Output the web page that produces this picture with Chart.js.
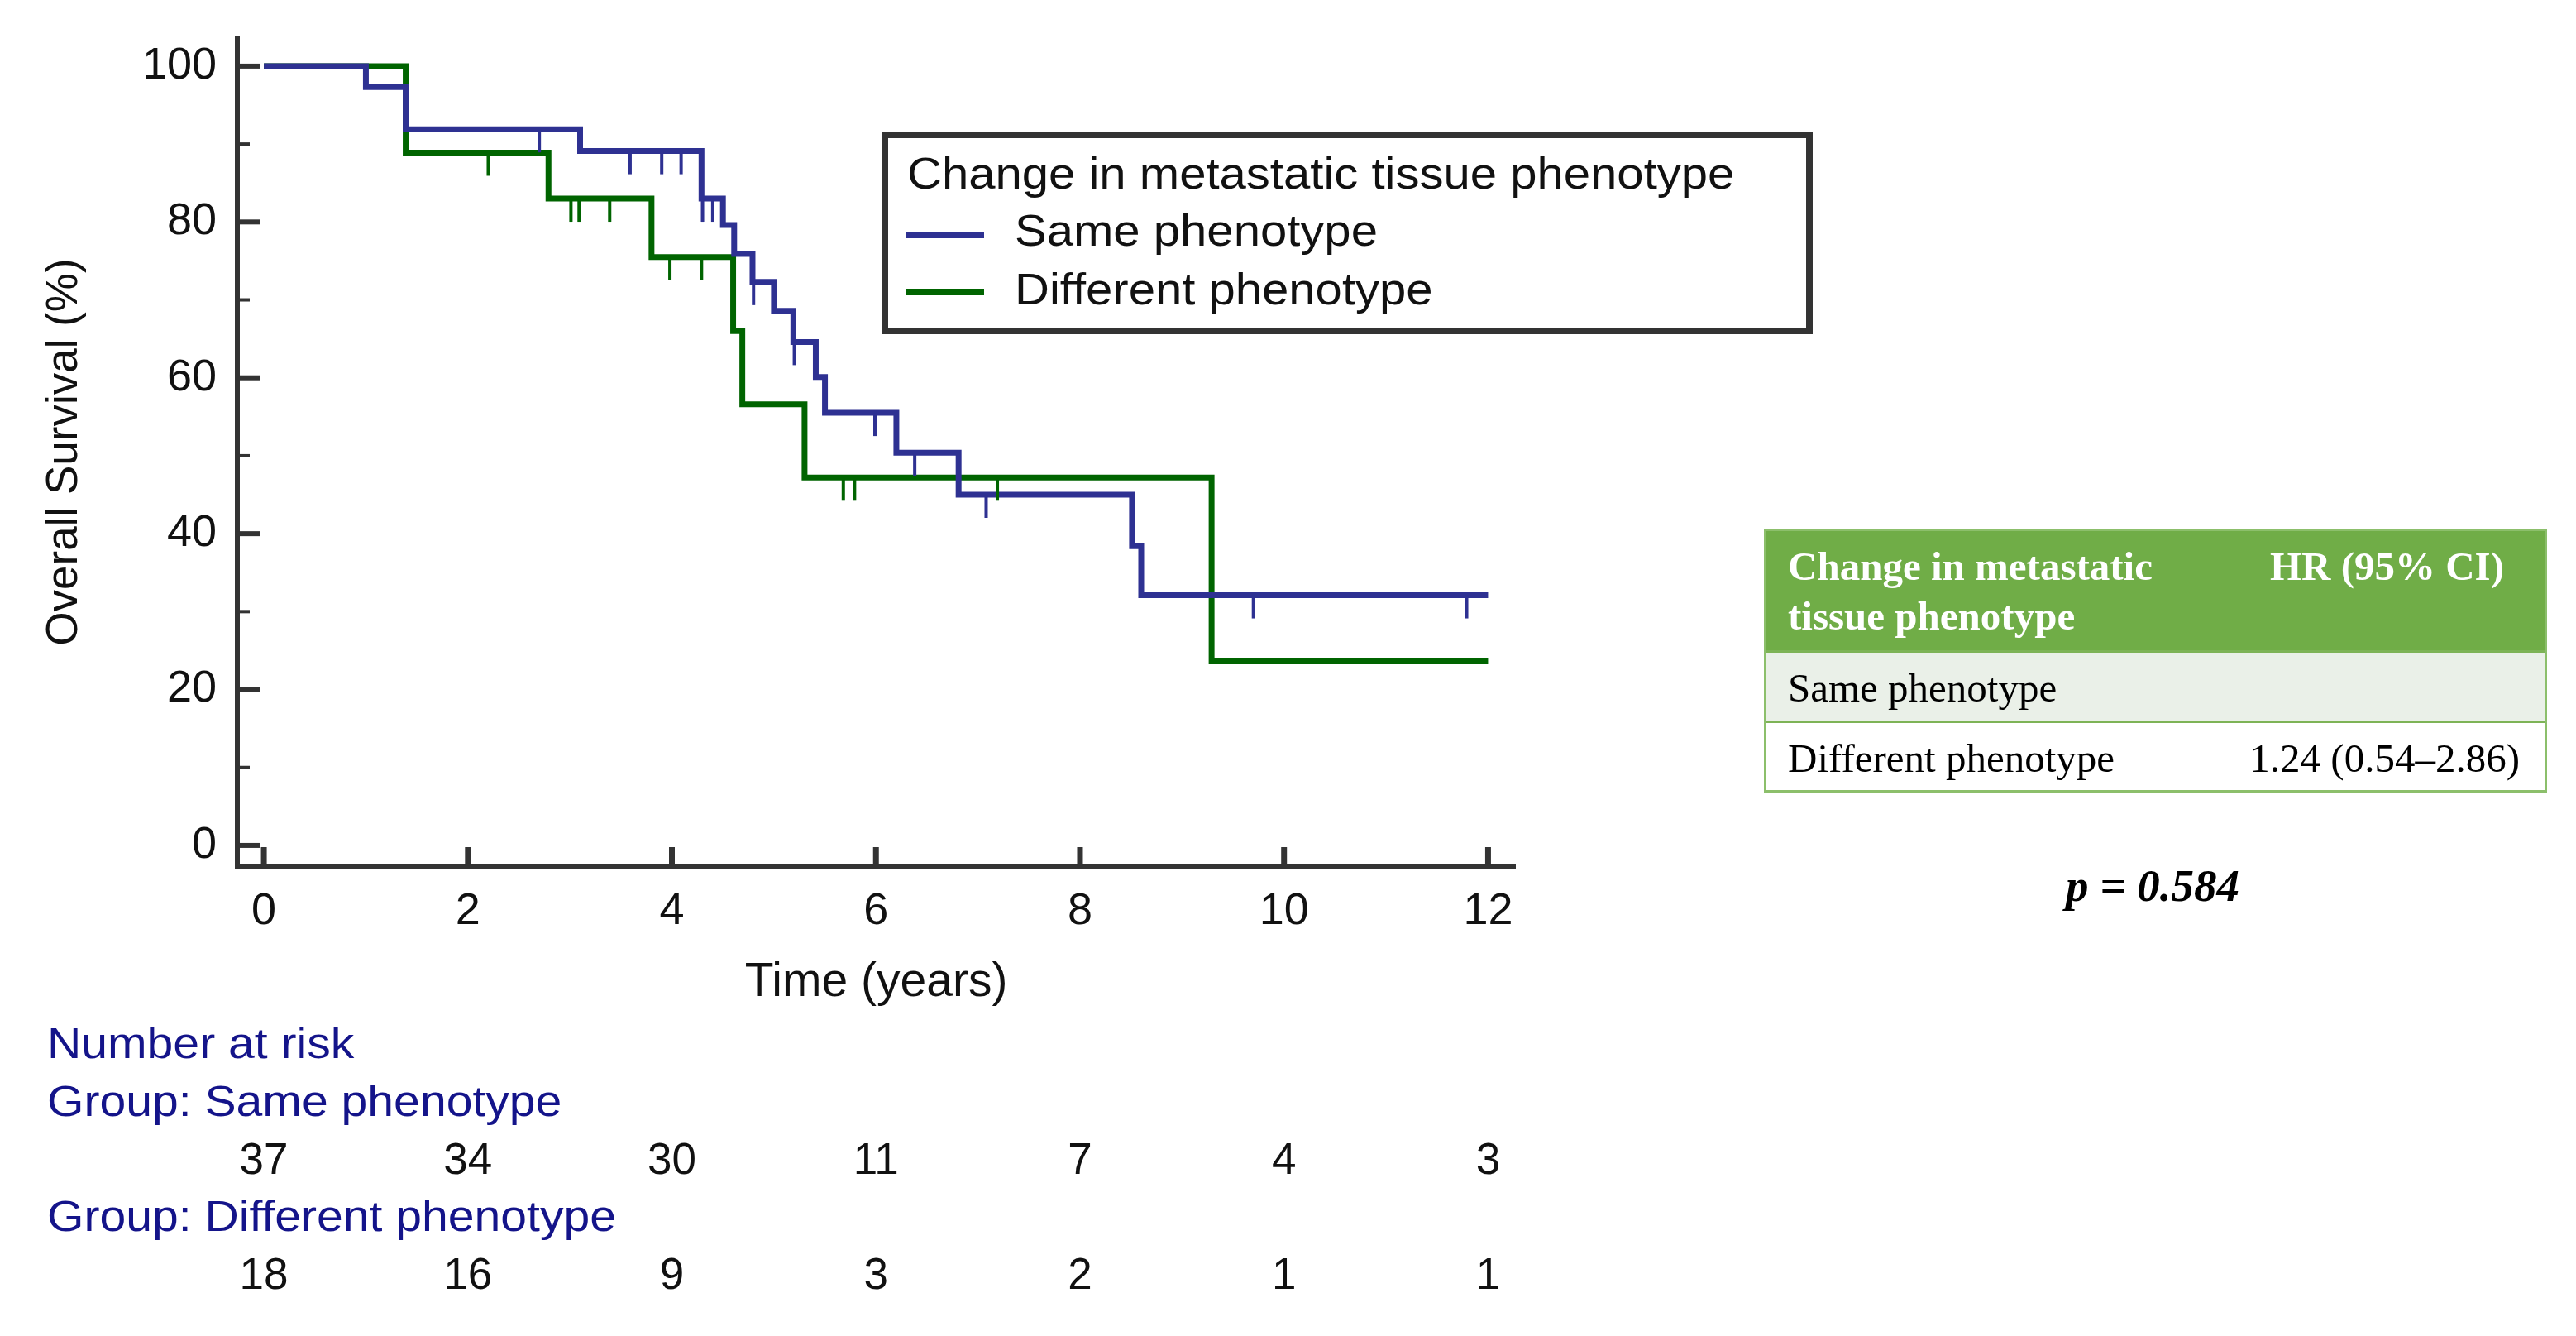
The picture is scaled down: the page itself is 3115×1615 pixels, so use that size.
<!DOCTYPE html>
<html>
<head>
<meta charset="utf-8">
<title>Overall survival by change in metastatic tissue phenotype</title>
<script src="https://cdn.jsdelivr.net/npm/chart.js@4.4.1/dist/chart.umd.min.js"></script>
<style>
  html, body { margin: 0; padding: 0; background: #fff; }
  #wrap { position: relative; width: 3115px; height: 1615px; overflow: hidden; }
  #km { position: absolute; left: 0; top: 0; }

  /* legend box over the plot */
  .legend { position: absolute; left: 1066px; top: 159px; width: 1126px; height: 245px;
            border: 8px solid #333; box-sizing: border-box;
            font-family: 'Liberation Sans', Arial, sans-serif; font-size: 54px; color: #111; }
  .legend .txt { position: absolute; line-height: 70px; white-space: nowrap;
                 transform: scaleX(1.075); transform-origin: left center; }
  .legend .swatch { position: absolute; width: 94px; height: 8px; }

  /* hazard ratio table */
  .tbl { position: absolute; left: 2133px; top: 639px; width: 947px; height: 319px;
         border: 3px solid #8cbf6b; box-sizing: border-box; background: #fff; }
  .tbl .head { position: absolute; left: 0; top: 0; right: 0; height: 144px; background: #70ad47; }
  .tbl .row1 { position: absolute; left: 0; top: 144px; right: 0; height: 82px; background: #eaf0e8;
               border-top: 3px solid #7db356; border-bottom: 3px solid #7db356; }
  .cell { position: absolute; font-family: 'Liberation Serif', 'Times New Roman', serif;
          font-size: 49px; line-height: 60px; white-space: nowrap; color: #000; }
  .cell.h { color: #fff; font-weight: bold; }
  .pval { position: absolute; left: 2403px; width: 400px; top: 1036px; text-align: center;
          font-family: 'Liberation Serif', 'Times New Roman', serif; font-size: 55px;
          font-weight: bold; font-style: italic; line-height: 70px; color: #000; }
</style>
</head>
<body>
<div id="wrap">
  <canvas id="km" width="3115" height="1615"></canvas>
  <div class="legend" id="legend"></div>
  <div class="tbl">
    <div class="head"></div>
    <div class="row1"></div>
  </div>
  <div class="cell h" style="left:2162px; top:655px;">Change in metastatic<br>tissue phenotype</div>
  <div class="cell h" style="right:87px; top:655px;">HR (95% CI)</div>
  <div class="cell" style="left:2162px; top:802px;">Same phenotype</div>
  <div class="cell" style="left:2162px; top:887px;">Different phenotype</div>
  <div class="cell" style="right:68px; top:887px;">1.24 (0.54–2.86)</div>
  <div class="pval"><i>p</i> = 0.584</div>
</div>
<script>
// ---- data ----
var sameTimes  = [0, 1.00, 1.39, 3.10, 4.29, 4.50, 4.61, 4.79, 5.00, 5.19, 5.41, 5.50, 6.20, 6.81, 8.51, 8.60, 12.0];
var sameSurv   = [100, 97.3, 91.9, 89.1, 83.0, 79.6, 75.9, 72.3, 68.6, 64.6, 60.1, 55.5, 50.4, 45.0, 38.4, 32.1, 32.1];
var sameCensor = [2.70, 3.59, 3.90, 4.09, 4.30, 4.40, 4.80, 5.20, 5.99, 6.38, 7.08, 9.70, 11.79];

var diffTimes  = [0, 1.39, 2.79, 3.80, 4.60, 4.69, 5.30, 9.29, 12.0];
var diffSurv   = [100, 88.9, 83.0, 75.5, 66.0, 56.6, 47.2, 23.6, 23.6];
var diffCensor = [2.20, 3.01, 3.09, 3.39, 3.98, 4.29, 5.68, 5.79, 7.19];

var seriesNames  = ['Same phenotype', 'Different phenotype'];
var seriesColors = ['#2e3192', '#006400'];
var legendTitle  = 'Change in metastatic tissue phenotype';

var xTicks  = [0, 2, 4, 6, 8, 10, 12];
var yTicks  = [0, 20, 40, 60, 80, 100];
var yMinor  = [10, 30, 50, 70, 90];

var riskTimes  = [0, 2, 4, 6, 8, 10, 12];
var sameRisk   = [37, 34, 30, 11, 7, 4, 3];
var diffRisk   = [18, 16, 9, 3, 2, 1, 1];
var riskTitle  = 'Number at risk';
var riskGroups = ['Group: Same phenotype', 'Group: Different phenotype'];

// ---- helpers ----
function toPoints(ts, ss) {
    return ts.map(function (t, i) { return { x: t, y: ss[i] }; });
}

// survival level in force at time t (last step at or before t)
function levelAt(ts, ss, t) {
    var v = ss[0];
    for (var i = 0; i < ts.length; i++) {
        if (ts[i] <= t) v = ss[i];
    }
    return v;
}

var groups = [
    { times: sameTimes, surv: sameSurv, censor: sameCensor, risk: sameRisk, color: seriesColors[0] },
    { times: diffTimes, surv: diffSurv, censor: diffCensor, risk: diffRisk, color: seriesColors[1] }
];

// ---- legend (html) ----
(function () {
    var box = document.getElementById('legend');
    var html = '<div class="txt" style="left:23px; top:7px;">' + legendTitle + '</div>';
    seriesNames.forEach(function (name, i) {
        html += '<div class="swatch" style="left:22px; top:' + (113 + i * 69) + 'px; background:' + seriesColors[i] + ';"></div>';
        html += '<div class="txt" style="left:153px; top:' + (76 + i * 71) + 'px;">' + name + '</div>';
    });
    box.innerHTML = html;
})();

// ---- censor marks, inward ticks, number-at-risk rows ----
var kmDecor = {
    id: 'kmDecor',
    afterDatasetsDraw: function (chart) {
        var ctx = chart.ctx, x = chart.scales.x, y = chart.scales.y;
        ctx.save();
        ctx.lineWidth = 4;
        groups.forEach(function (g) {
            ctx.strokeStyle = g.color;
            g.censor.forEach(function (t) {
                var px = x.getPixelForValue(t);
                var py = y.getPixelForValue(levelAt(g.times, g.surv, t));
                ctx.beginPath();
                ctx.moveTo(px, py);
                ctx.lineTo(px, py + 28);
                ctx.stroke();
            });
        });
        ctx.restore();
    },
    afterDraw: function (chart) {
        var ctx = chart.ctx, x = chart.scales.x, y = chart.scales.y;
        var area = chart.chartArea;
        ctx.save();
        ctx.strokeStyle = '#333';

        // y ticks point into the plot
        ctx.lineWidth = 6;
        yTicks.forEach(function (v) {
            var py = y.getPixelForValue(v);
            ctx.beginPath(); ctx.moveTo(area.left, py); ctx.lineTo(area.left + 28, py); ctx.stroke();
        });
        ctx.lineWidth = 4;
        yMinor.forEach(function (v) {
            var py = y.getPixelForValue(v);
            ctx.beginPath(); ctx.moveTo(area.left, py); ctx.lineTo(area.left + 15, py); ctx.stroke();
        });

        // x ticks point up
        ctx.lineWidth = 7;
        xTicks.forEach(function (v) {
            var px = x.getPixelForValue(v);
            ctx.beginPath(); ctx.moveTo(px, area.bottom); ctx.lineTo(px, area.bottom - 23); ctx.stroke();
        });

        // number at risk
        function label(text, left, base) {
            ctx.save();
            ctx.translate(left, base);
            ctx.scale(1.12, 1);
            ctx.fillText(text, 0, 0);
            ctx.restore();
        }
        ctx.textBaseline = 'alphabetic';
        ctx.font = '51px "Liberation Sans", Arial, sans-serif';
        ctx.fillStyle = '#14148a';
        ctx.textAlign = 'left';
        label(riskTitle, 57, 1279);
        label(riskGroups[0], 57, 1349);
        label(riskGroups[1], 57, 1488);

        ctx.fillStyle = '#111';
        ctx.textAlign = 'center';
        ctx.font = '53px "Liberation Sans", Arial, sans-serif';
        [1419, 1558].forEach(function (base, gi) {
            riskTimes.forEach(function (t, i) {
                ctx.fillText(String(groups[gi].risk[i]), x.getPixelForValue(t), base);
            });
        });
        ctx.restore();
    }
};

Chart.defaults.font.family = '"Liberation Sans", Arial, sans-serif';
Chart.defaults.color = '#111';

// invisible tick marks: they only push the labels away from the axis
var hiddenGrid = { display: true, drawOnChartArea: false, drawTicks: true, color: 'rgba(0,0,0,0)' };

new Chart(document.getElementById('km'), {
    type: 'line',
    data: {
        datasets: groups.map(function (g, i) {
            return {
                label: seriesNames[i],
                data: toPoints(g.times, g.surv),
                borderColor: g.color,
                backgroundColor: g.color,
                borderWidth: 7,
                stepped: true,
                pointRadius: 0,
                fill: false
            };
        })
    },
    options: {
        responsive: false,
        animation: false,
        devicePixelRatio: 1,
        layout: { padding: { left: 0, top: 46, right: 1283, bottom: 387 } },
        plugins: {
            legend: { display: false },
            tooltip: { enabled: false }
        },
        scales: {
            x: {
                type: 'linear',
                min: -0.26,
                max: 12.264,
                afterBuildTicks: function (s) { s.ticks = xTicks.map(function (v) { return { value: v }; }); },
                afterFit: function (s) { s.height = 181; },
                grid: Object.assign({}, hiddenGrid, { tickLength: 18 }),
                border: { display: true, color: '#333', width: 6 },
                ticks: { padding: 5, autoSkip: false, maxRotation: 0, color: '#111', font: { size: 54 } },
                title: { display: true, text: 'Time (years)', color: '#111', font: { size: 57 }, padding: { top: 0, bottom: 6 } }
            },
            y: {
                min: -2.66,
                max: 103.6,
                afterBuildTicks: function (s) { s.ticks = yTicks.map(function (v) { return { value: v }; }); },
                afterFit: function (s) { s.width = 287; },
                grid: Object.assign({}, hiddenGrid, { tickLength: 20 }),
                border: { display: true, color: '#333', width: 6 },
                ticks: { padding: 5, autoSkip: false, color: '#111', font: { size: 54 } },
                title: { display: true, text: 'Overall Survival (%)', color: '#111', font: { size: 53 }, padding: { top: 47, bottom: 0 } }
            }
        }
    },
    plugins: [kmDecor]
});
</script>
</body>
</html>
